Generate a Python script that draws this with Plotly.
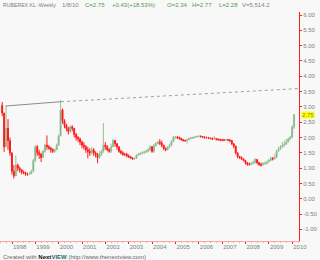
import plotly.graph_objects as go

# ---- data (monthly candles, Aug 1997 .. Jan 2010) ----
start_year = 1997.58
closes = [2.8, 1.7, 2.3, 1.9, 1.5, 0.9, 0.75, 1.1, 1.0, 0.95,
          0.87, 0.85, 0.8, 0.8, 0.82, 0.9, 1.25, 1.7, 1.5, 1.45,
          1.35, 1.55, 1.75, 1.7, 1.65, 1.6, 1.55, 1.6, 1.75, 2.05,
          2.9, 2.55, 2.4, 2.3, 2.2, 2.35, 2.3, 2.1, 2.0, 1.95,
          1.85, 1.75, 1.7, 1.6, 1.55, 1.5, 1.6, 1.5, 1.45, 1.35,
          1.45, 1.55, 1.75, 1.7, 1.6, 1.55, 1.7, 1.9, 1.8, 1.7,
          1.55, 1.5, 1.45, 1.45, 1.4, 1.37, 1.33, 1.3, 1.32, 1.42,
          1.45, 1.48, 1.5, 1.52, 1.55, 1.6, 1.7, 1.55, 1.75, 1.8,
          1.85, 1.82, 1.75, 1.65, 1.6, 1.68, 1.75, 1.88, 2.02, 2.02,
          2.0, 1.98, 1.93, 1.9, 1.9, 1.93, 1.97, 1.98, 2.0, 2.02,
          2.03, 2.04, 2.03, 2.02, 2.0, 2.0, 1.98, 1.97, 1.95, 1.97,
          1.95, 1.93, 1.92, 1.92, 1.92, 1.93, 1.92, 1.9, 1.8, 1.72,
          1.5, 1.38, 1.35, 1.3, 1.25, 1.18, 1.12, 1.12, 1.15, 1.18,
          1.28, 1.18, 1.12, 1.1, 1.15, 1.15, 1.2, 1.25, 1.32, 1.3,
          1.35, 1.55, 1.62, 1.68, 1.75, 1.78, 1.85, 1.95, 2.0, 2.34,
          2.75]
highs = [3.16, 2.8, 3.05, 2.6, 2.0, 1.5, 1.1, 1.42, 1.15, 1.05,
         0.95, 0.92, 0.88, 0.85, 0.88, 0.95, 1.3, 1.75, 1.75, 1.6,
         1.5, 1.6, 1.8, 2.07, 1.75, 1.7, 1.65, 1.65, 1.8, 2.1,
         3.22, 2.95, 2.6, 2.45, 2.35, 2.4, 2.4, 2.3, 2.15, 2.05,
         2.0, 1.9, 1.85, 1.75, 1.7, 1.65, 1.7, 1.65, 1.55, 1.5,
         1.55, 1.6, 2.47, 1.85, 1.75, 1.65, 1.8, 1.95, 1.9, 1.8,
         1.7, 1.6, 1.55, 1.5, 1.5, 1.45, 1.4, 1.35, 1.36, 1.45,
         1.5, 1.52, 1.55, 1.57, 1.6, 1.65, 1.75, 1.72, 1.8, 1.85,
         1.9, 1.95, 1.9, 1.75, 1.68, 1.72, 1.8, 1.92, 2.05, 2.05,
         2.04, 2.03, 1.98, 1.95, 1.93, 1.96, 2.0, 2.02, 2.03, 2.05,
         2.06, 2.08, 2.07, 2.05, 2.04, 2.03, 2.02, 2.0, 2.0, 2.05,
         1.98, 1.97, 1.96, 1.95, 1.95, 1.96, 1.95, 1.95, 1.88, 1.8,
         1.7, 1.5, 1.4, 1.38, 1.32, 1.27, 1.2, 1.18, 1.2, 1.25,
         1.33, 1.3, 1.2, 1.18, 1.2, 1.22, 1.25, 1.3, 1.38, 1.36,
         1.45, 1.6, 1.7, 1.75, 1.85, 1.9, 1.95, 2.0, 2.05, 2.4,
         2.77]
lows = [2.7, 1.53, 1.7, 1.6, 1.4, 0.8, 0.66, 0.8, 0.9, 0.85,
        0.8, 0.8, 0.75, 0.75, 0.77, 0.8, 0.9, 1.2, 1.4, 1.3,
        1.2, 1.35, 1.5, 1.6, 1.6, 1.5, 1.5, 1.5, 1.6, 1.75,
        2.05, 2.45, 2.3, 2.2, 2.1, 2.15, 2.2, 2.0, 1.9, 1.85,
        1.75, 1.65, 1.6, 1.5, 1.32, 1.4, 1.45, 1.4, 1.35, 1.16,
        1.3, 1.4, 1.5, 1.6, 1.55, 1.5, 1.5, 1.7, 1.7, 1.6,
        1.5, 1.45, 1.4, 1.4, 1.35, 1.33, 1.3, 1.27, 1.27, 1.3,
        1.4, 1.42, 1.45, 1.47, 1.5, 1.52, 1.55, 1.5, 1.5, 1.7,
        1.78, 1.75, 1.68, 1.58, 1.55, 1.58, 1.65, 1.75, 1.85, 1.95,
        1.95, 1.93, 1.9, 1.87, 1.86, 1.8, 1.93, 1.95, 1.96, 1.98,
        2.0, 2.0, 2.0, 1.98, 1.96, 1.96, 1.95, 1.94, 1.92, 1.93,
        1.9, 1.9, 1.88, 1.88, 1.88, 1.9, 1.88, 1.85, 1.75, 1.65,
        1.45, 1.32, 1.3, 1.27, 1.22, 1.12, 1.08, 1.08, 1.1, 1.12,
        1.15, 1.12, 1.07, 1.05, 1.1, 1.1, 1.12, 1.2, 1.25, 1.25,
        1.28, 1.35, 1.55, 1.6, 1.68, 1.7, 1.78, 1.88, 1.92, 2.0,
        2.28]
first_open = 3.05
last_open = 2.34

# trend line (start, end of solid part, end of dotted part)
trend_x = [1997.74, 2000.10, 2010.29]
trend_y = [3.03, 3.17, 3.60]

year_ticks = list(range(1998, 2011))
year_labels = [str(y) for y in year_ticks]
price_ticks = [-1.0, -0.5, 0.0, 0.5, 1.0, 1.5, 2.0, 2.5, 3.0, 3.5, 4.0, 4.5, 5.0, 5.5, 6.0]
price_labels = ["-1.00", "-0.50", "0.00", "0.50", "1.00", "1.50", "2.00", "2.50",
                "3.00", "3.50", "4.00", "4.50", "5.00", "5.50", "6.00"]
last_close_label = "2.75"

# ---- build ----
dates = [start_year + i / 12 for i in range(len(closes))]
opens = [first_open] + closes[:-1]
opens[-1] = last_open

FONT = "Liberation Sans"
GRAY = "#808080"
GREEN = "#4f9a4f"

fig = go.Figure()
fig.add_trace(go.Scatter(x=trend_x[:2], y=trend_y[:2], mode="lines",
                         line=dict(color="#8c8c8c", width=1), hoverinfo="skip"))
fig.add_trace(go.Scatter(x=trend_x[1:], y=trend_y[1:], mode="lines",
                         line=dict(color="#a0a0a0", width=1, dash="dot"), hoverinfo="skip"))
fig.add_trace(go.Candlestick(
    x=dates, open=opens, high=highs, low=lows, close=closes,
    increasing=dict(line=dict(color="#98bf98", width=1), fillcolor="#2f7f2f"),
    decreasing=dict(line=dict(color="#ff1a1a", width=1), fillcolor="#ff0000"),
    whiskerwidth=0,
))

fig.update_layout(
    width=320, height=260,
    margin=dict(l=0, r=21, t=12, b=19),
    paper_bgcolor="#f8f8f8", plot_bgcolor="#f8f8f8",
    showlegend=False,
    font=dict(family=FONT, size=6, color=GRAY),
    xaxis=dict(range=[1997.486, 2010.29], rangeslider=dict(visible=False),
               tickvals=year_ticks, ticktext=year_labels,
               ticklabelposition="outside right",
               showgrid=False, zeroline=False,
               showline=True, linecolor="#f4a8a8", linewidth=1,
               ticks="outside", ticklen=2, tickcolor="#ee2222",
               minor=dict(dtick=0.25, ticks="outside", ticklen=1, tickcolor="#f4a8a8"),
               tickfont=dict(size=6, color=GRAY, family=FONT)),
    yaxis=dict(range=[-1.38, 6.1], side="right",
               tickvals=price_ticks, ticktext=price_labels,
               showgrid=False, zeroline=False,
               showline=True, linecolor="#ff2020", linewidth=1,
               ticks="outside", ticklen=2, tickcolor="#ff2020",
               tickfont=dict(size=6, color=GRAY, family=FONT)),
)

# last price marker label
fig.add_annotation(xref="paper", yref="y", x=1, y=closes[-1], xanchor="left", xshift=2,
                   text=last_close_label, showarrow=False, bgcolor="#ffff00",
                   borderpad=0, font=dict(size=6, color=GRAY, family=FONT))

# header
header = [
    (1, "RUBEREX.KL -Weekly", GRAY, 5.2),
    (60, "1/8/10", GRAY, 6),
    (83, "C=2.75", GREEN, 6),
    (110, "+0.43(+18.53%)", GREEN, 6),
    (165, "O=2.34", GREEN, 6),
    (190, "H=2.77", GREEN, 6),
    (217, "L=2.28", GREEN, 6),
    (240, "V=5,514.2", GRAY, 6),
]
for px, txt, col, sz in header:
    fig.add_annotation(xref="paper", yref="paper", x=px / 299, y=1, xanchor="left",
                       yanchor="middle", yshift=7, text=txt, showarrow=False,
                       font=dict(size=sz, color=col, family=FONT))

fig.add_annotation(xref="paper", yref="paper", x=1 / 299, y=0, xanchor="left",
                   yanchor="middle", yshift=-16, showarrow=False,
                   text="Created with <b><span style='color:#111111'>Next</span>"
                        "<span style='color:#1b6f6f'>VIEW</span></b> (http://www.thenextview.com)",
                   font=dict(size=6, color="#666666", family=FONT))

fig.write_html("out.html")
